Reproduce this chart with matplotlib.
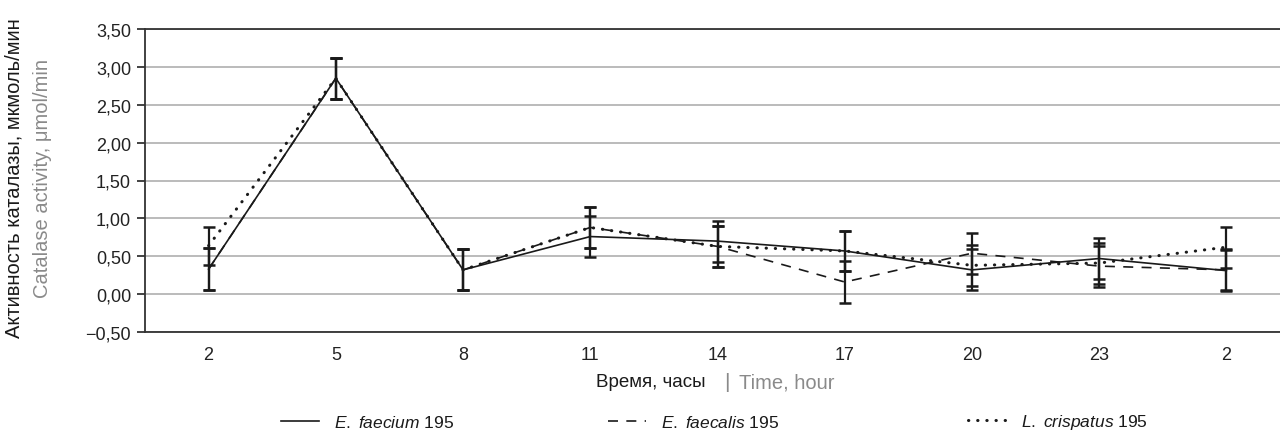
import matplotlib
matplotlib.use("Agg")
import matplotlib.pyplot as plt
from matplotlib.ticker import FuncFormatter, MultipleLocator
from matplotlib.lines import Line2D

plt.rcParams['font.family'] = ['Liberation Sans', 'DejaVu Sans']
plt.rcParams['mathtext.fontset'] = 'custom'
plt.rcParams['mathtext.it'] = 'Liberation Sans:italic'
plt.rcParams['mathtext.rm'] = 'Liberation Sans'

# time points (hours), shown as categories
hours = ['2', '5', '8', '11', '14', '17', '20', '23', '2']

faecium = [0.33, 2.85, 0.32, 0.76, 0.70, 0.57, 0.32, 0.47, 0.31]
faecium_err = [0.28, 0.27, 0.27, 0.27, 0.27, 0.26, 0.27, 0.27, 0.27]

faecalis = [0.33, 2.85, 0.32, 0.88, 0.63, 0.16, 0.54, 0.37, 0.32]
faecalis_err = [0.28, 0.27, 0.27, 0.27, 0.27, 0.28, 0.27, 0.27, 0.27]

crispatus = [0.64, 2.85, 0.32, 0.88, 0.63, 0.57, 0.38, 0.41, 0.62]
crispatus_err = [0.25, 0.27, 0.27, 0.27, 0.27, 0.26, 0.27, 0.27, 0.27]

labels = [r'$\mathit{E.\ faecium}$ 195',
          r'$\mathit{E.\ faecalis}$ 195',
          r'$\mathit{L.\ crispatus}$ 195']

fig = plt.figure(figsize=(12.8, 4.35), dpi=100)
W, H = 1280, 435
ax = fig.add_axes([145 / W, (H - 333) / H, (1290 - 145) / W, (333 - 30) / H])

x = list(range(len(hours)))
styles = [dict(linestyle='-', lw=1.2),
          dict(linestyle=(0, (6, 5)), lw=1.2),
          dict(linestyle=(0, (0.1, 2.9)), lw=2.2, dash_capstyle='round')]
series = [(faecium, faecium_err), (faecalis, faecalis_err), (crispatus, crispatus_err)]

for (vals, err), st in zip(series, styles):
    ax.plot(x, vals, color='#1a1a1a', zorder=3, **st)
    ax.errorbar(x, vals, yerr=err, fmt='none', ecolor='#1a1a1a',
                elinewidth=1.6, capsize=4, capthick=1.8, zorder=4)

ax.set_xlim(-0.5, len(hours) - 0.5)
ax.set_ylim(-0.5, 3.5)
ax.yaxis.set_major_locator(MultipleLocator(0.5))
ax.yaxis.set_major_formatter(FuncFormatter(
    lambda v, p: f"{v:.2f}".replace('.', ',').replace('-', '\u2212')))
ax.set_xticks(x)
ax.set_xticklabels(hours)
ax.tick_params(axis='x', length=0, pad=10, labelsize=13, colors='#222222')
ax.tick_params(axis='y', length=6, width=1.2, pad=4, labelsize=13,
               colors='#222222', direction='out')

ax.grid(axis='y', color='#b5b5b5', lw=1.3, zorder=0)
for s in ['left', 'top', 'bottom']:
    ax.spines[s].set_color('#333333')
    ax.spines[s].set_linewidth(1.3)
ax.spines['right'].set_visible(False)

# y axis label (two lines: Russian black, English gray)
fig.text(14 / W, 1 - 178 / H, 'Активность каталазы, мкмоль/мин', rotation=90,
         ha='center', va='center', fontsize=14.5, color='#1a1a1a')
fig.text(43 / W, 1 - 178 / H, 'Catalase activity, μmol/min', rotation=90,
         ha='center', va='center', fontsize=14.5, color='#8a8a8a')

# x axis label
fig.text(706 / W, 1 - 383 / H, 'Время, часы', ha='right', va='center',
         fontsize=13.5, color='#1a1a1a')
fig.text(727 / W, 1 - 383 / H, '|', ha='center', va='center',
         fontsize=15, color='#8a8a8a')
fig.text(739 / W, 1 - 383 / H, 'Time, hour', ha='left', va='center',
         fontsize=14.5, color='#8a8a8a')

# legend entries
leg_x = [265, 592, 952]
for lx, st, lab in zip(leg_x, styles, labels):
    h = Line2D([], [], color='#1a1a1a', **st)
    lg = fig.legend([h], [lab], loc='center left',
                    bbox_to_anchor=(lx / W, 1 - 423 / H), frameon=False,
                    fontsize=12.5, handlelength=2.2, handletextpad=0.9)
    for t in lg.get_texts():
        t.set_color('#1a1a1a')

fig.savefig('out.png', dpi=100)
